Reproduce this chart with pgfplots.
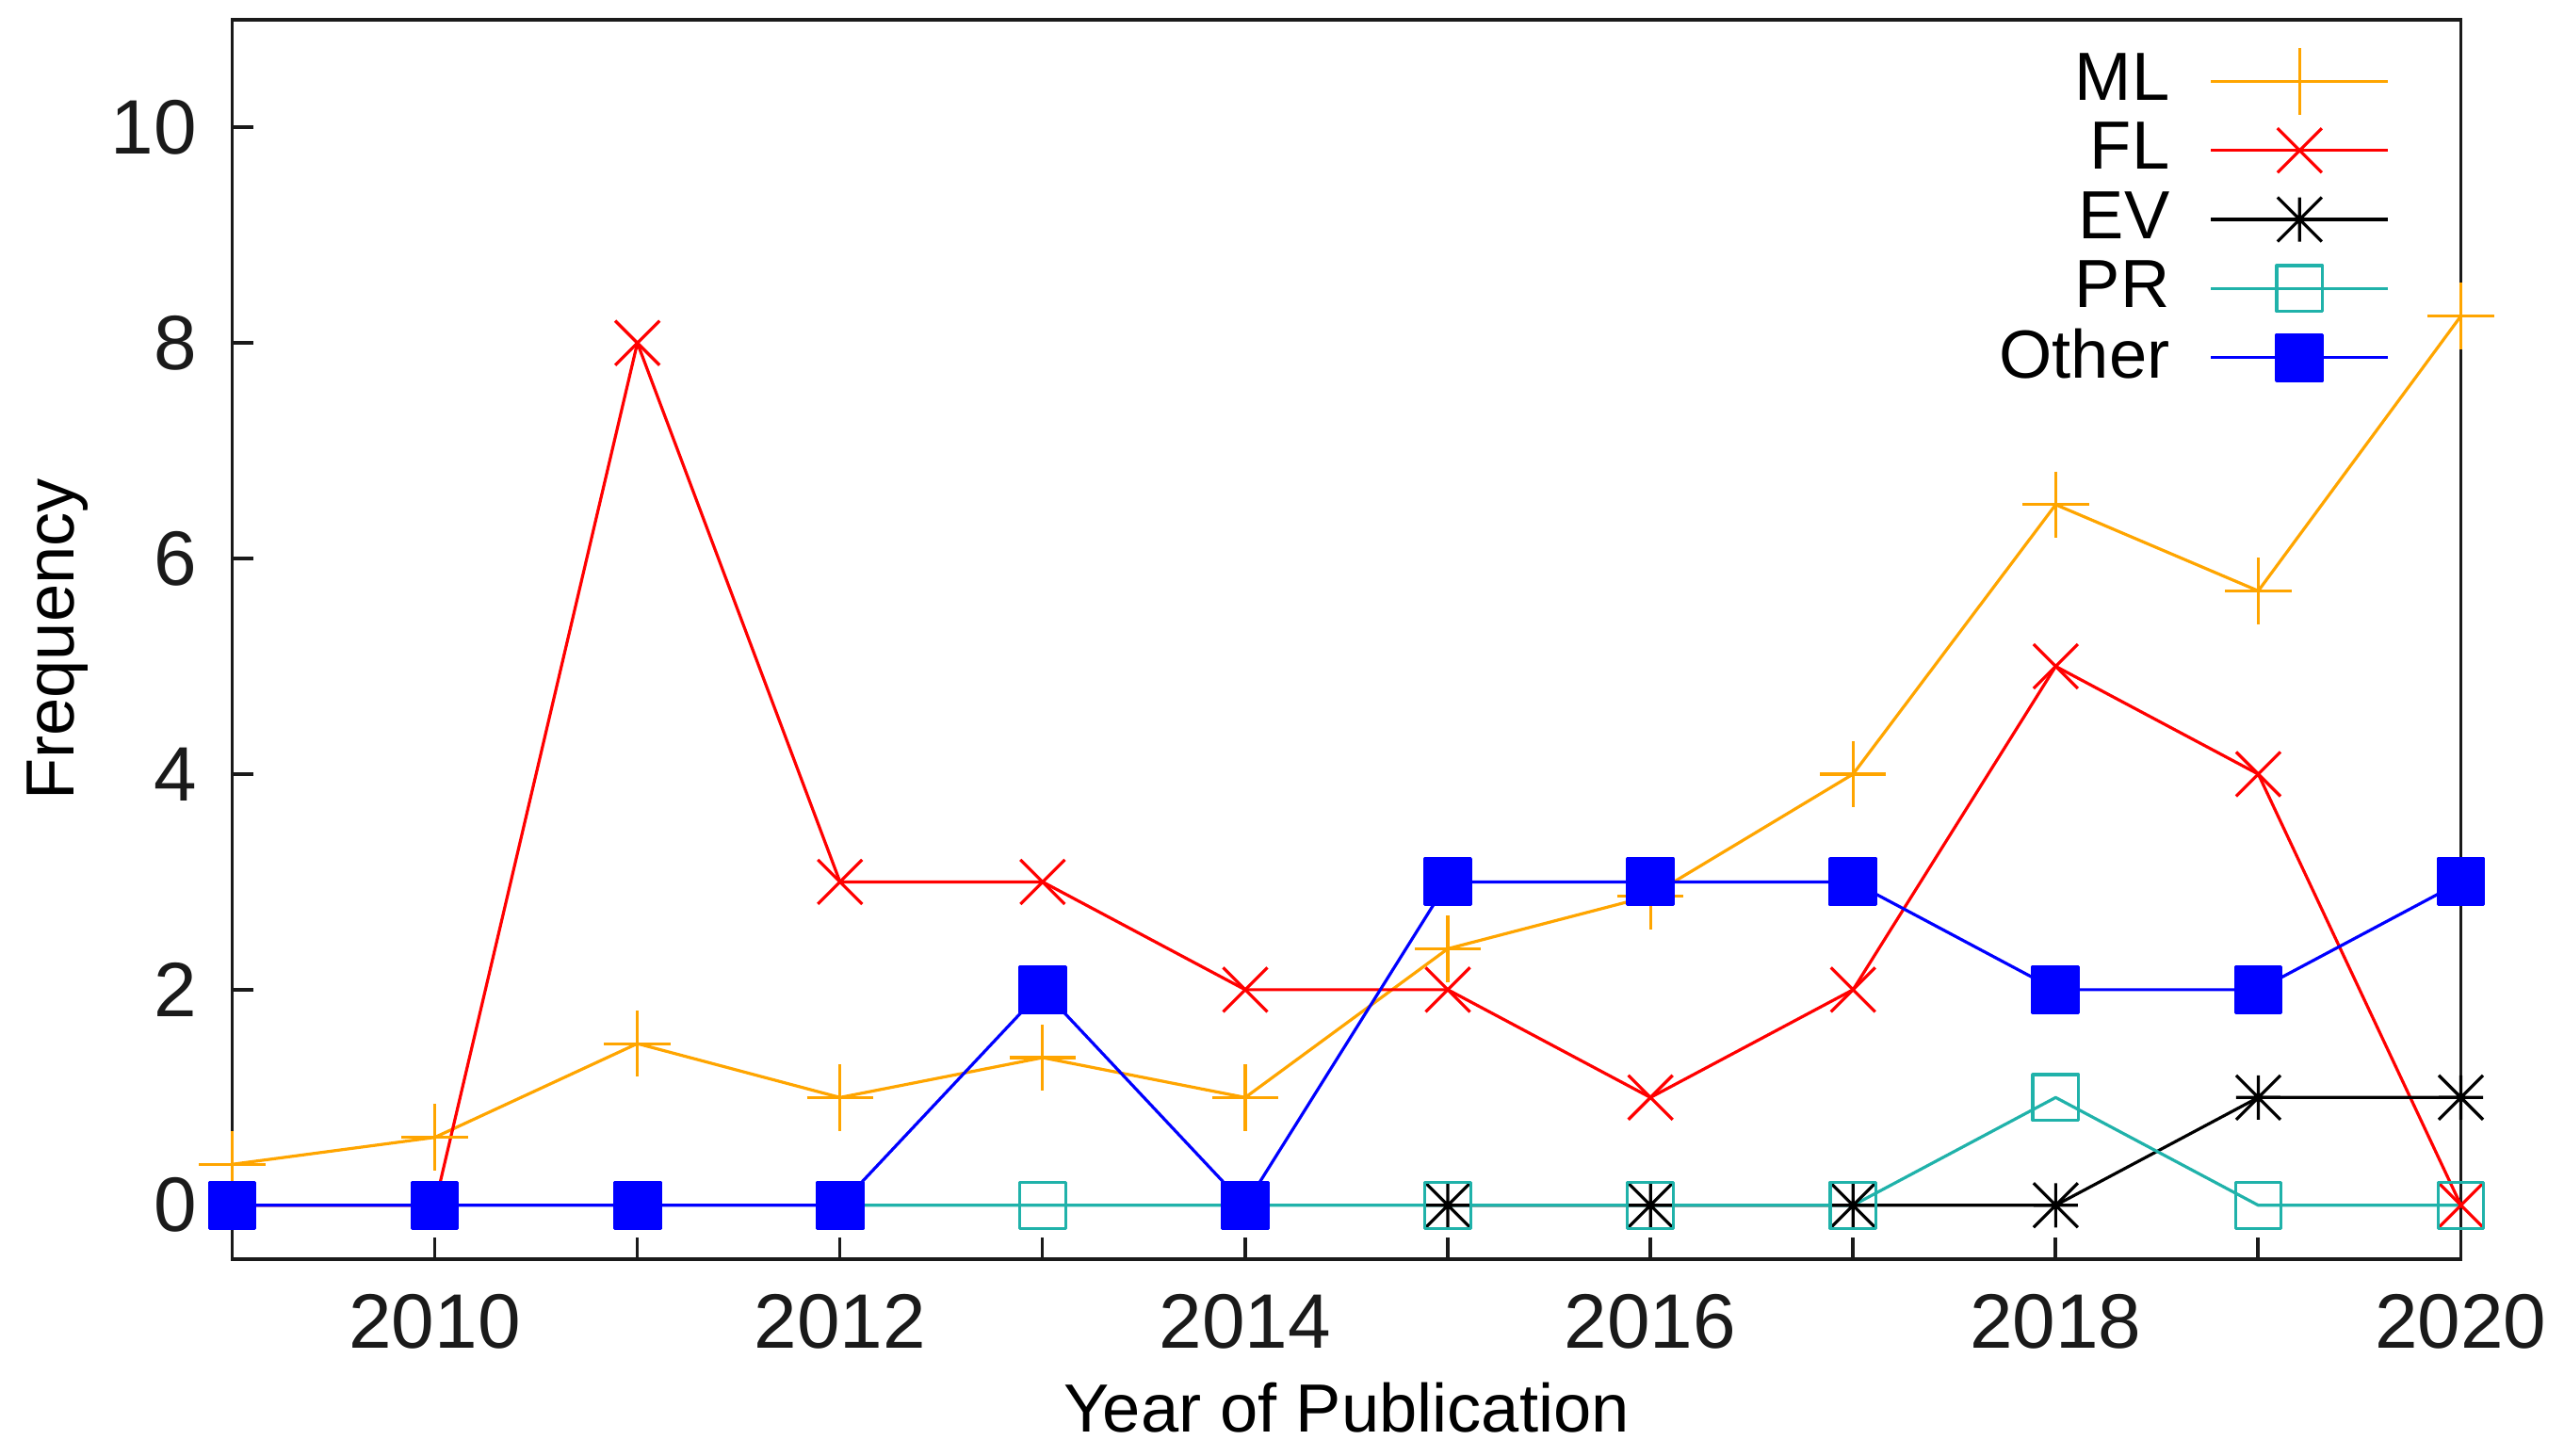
\documentclass[border=0pt]{standalone}
\usepackage{fontspec}
\setmainfont{Liberation Sans}
\usepackage{pgfplots}
\pgfplotsset{compat=1.18}

\definecolor{mlc}{HTML}{FFA500}
\definecolor{flc}{HTML}{FF0000}
\definecolor{prc}{HTML}{20B2AA}
\definecolor{otc}{HTML}{0000FF}
\definecolor{axc}{HTML}{1A1A1A}

% gnuplot style asterisk: plus and x together
\pgfdeclareplotmark{gpstar}{%
  \pgfpathmoveto{\pgfqpoint{-\pgfplotmarksize}{0pt}}%
  \pgfpathlineto{\pgfqpoint{\pgfplotmarksize}{0pt}}%
  \pgfpathmoveto{\pgfqpoint{0pt}{-\pgfplotmarksize}}%
  \pgfpathlineto{\pgfqpoint{0pt}{\pgfplotmarksize}}%
  \pgfpathmoveto{\pgfqpoint{-\pgfplotmarksize}{-\pgfplotmarksize}}%
  \pgfpathlineto{\pgfqpoint{\pgfplotmarksize}{\pgfplotmarksize}}%
  \pgfpathmoveto{\pgfqpoint{-\pgfplotmarksize}{\pgfplotmarksize}}%
  \pgfpathlineto{\pgfqpoint{\pgfplotmarksize}{-\pgfplotmarksize}}%
  \pgfusepathqstroke}

\begin{document}
\begin{tikzpicture}
\begin{axis}[
  scale only axis,
  width=369.6pt, height=205.6pt,
  xmin=2009, xmax=2020,
  ymin=-0.5, ymax=11,
  clip=false,
  xtick={2009,...,2020},
  xticklabels={,2010,,2012,,2014,,2016,,2018,,2020},
  ytick={0,2,...,10},
  tick align=inside,
  tick pos=left,
  major tick length=3.6pt,
  axis line style={axc, line width=0.55pt},
  every tick/.style={axc, line width=0.55pt},
  /pgf/number format/assume math mode=true,
  tick label style={font=\fontsize{12.8}{14}\selectfont, text=axc, inner sep=0pt},
  xticklabel style={anchor=north, yshift=-5.6pt},
  yticklabel style={anchor=east, xshift=-5.7pt},
  xlabel={Year of Publication},
  ylabel={Frequency},
  label style={font=\fontsize{11.3}{13}\selectfont, inner sep=0pt},
  xlabel style={at={(axis description cs:0.5,0)}, anchor=base, yshift=-28.7pt},
  ylabel style={at={(axis description cs:-0.0712,0.5)}, anchor=base},
  every axis plot/.append style={line width=0.5pt, line join=round},
  legend cell align=right,
  legend plot pos=right,
  legend style={at={(rel axis cs:1,1)}, anchor=north east,
    xshift=-11.8pt, yshift=-4.75pt, draw=none, fill=none,
    inner sep=0pt, outer sep=0pt,
    font=\fontsize{11.3}{13}\selectfont,
    row sep={11.45pt,between origins}, column sep=6.6pt,
    nodes={inner sep=0pt, outer sep=0pt}},
  legend image code/.code={%
    \draw[mark repeat=2,mark phase=2,#1]
      plot coordinates {(0pt,0pt) (14.7pt,0pt) (29.4pt,0pt)};},
]
\addplot[mlc, mark=+, mark size=5.5pt] coordinates {
  (2009,0.38) (2010,0.63) (2011,1.5) (2012,1.0) (2013,1.37) (2014,1.0)
  (2015,2.38) (2016,2.87) (2017,4.0) (2018,6.5) (2019,5.7) (2020,8.25)
};
\addplot[flc, mark=x, mark size=5.2pt] coordinates {
  (2009,0) (2010,0) (2011,8) (2012,3) (2013,3) (2014,2)
  (2015,2) (2016,1) (2017,2) (2018,5) (2019,4) (2020,0)
};
\addplot[black, mark=gpstar, mark size=3.67pt] coordinates {
  (2015,0) (2016,0) (2017,0) (2018,0) (2019,1) (2020,1)
};
\addplot[prc, mark=square, mark size=3.8pt] coordinates {
  (2012,0) (2013,0) (2014,0) (2015,0) (2016,0) (2017,0)
  (2018,1) (2019,0) (2020,0)
};
\addplot[otc, mark=square*, mark size=3.8pt, mark options={fill=otc}] coordinates {
  (2009,0) (2010,0) (2011,0) (2012,0) (2013,2) (2014,0)
  (2015,3) (2016,3) (2017,3) (2018,2) (2019,2) (2020,3)
};
\legend{ML,FL,EV,PR,Other}
\end{axis}
\path ([xshift=-38.5pt,yshift=-32.6pt]current axis.south west)
  rectangle ([xshift=17.1pt,yshift=3.25pt]current axis.north east);
\end{tikzpicture}
\end{document}
